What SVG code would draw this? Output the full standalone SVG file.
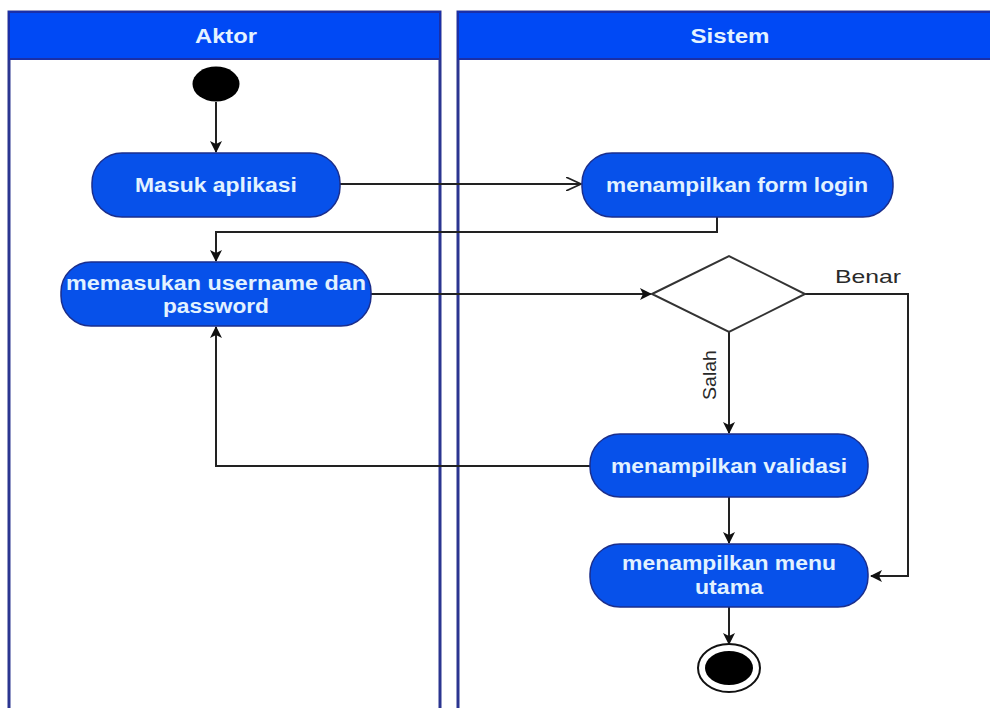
<svg xmlns="http://www.w3.org/2000/svg" width="990" height="708" viewBox="0 0 990 708">
  <style>
    .lane { fill: #ffffff; stroke: #2b3590; stroke-width: 3; }
    .head { fill: #0049f5; stroke: #1a2fa8; stroke-width: 2; }
    .head-text { font-family: "Liberation Sans", Arial, sans-serif; font-weight: bold; font-size: 20px; fill: #e4f2ff; text-anchor: middle; }
    .act { fill: #0751ea; stroke: #1b2e8c; stroke-width: 1.5; }
    .act-text { font-family: "Liberation Sans", Arial, sans-serif; font-weight: bold; font-size: 19.5px; fill: #e2f2ff; text-anchor: middle; }
    .edge { fill: none; stroke: #222222; stroke-width: 2; }
    .guard { font-family: "Liberation Sans", Arial, sans-serif; font-size: 19px; fill: #2a2a2a; }
  </style>
  <defs>
    <marker id="arrow" viewBox="0 0 12 12" refX="11" refY="6" markerWidth="12" markerHeight="12" markerUnits="userSpaceOnUse" orient="auto">
      <path d="M0,0 L12,6 L0,12 L3,6 Z" fill="#111111"/>
    </marker>
    <marker id="open" viewBox="0 0 16 14" refX="15" refY="7" markerWidth="16" markerHeight="14" markerUnits="userSpaceOnUse" orient="auto">
      <path d="M0,0 L15,7 L0,14" fill="none" stroke="#222222" stroke-width="1.6"/>
    </marker>
  </defs>

  <rect x="0" y="0" width="990" height="708" fill="#ffffff"/>

  <!-- swimlanes -->
  <g id="lane-aktor">
    <rect class="lane" x="9" y="12" width="431" height="710"/>
    <rect class="head" x="9" y="12" width="431" height="47"/>
    <text class="head-text" x="226" y="43" textLength="62" lengthAdjust="spacingAndGlyphs">Aktor</text>
  </g>
  <g id="lane-sistem">
    <rect class="lane" x="458" y="12" width="540" height="710"/>
    <rect class="head" x="458" y="12" width="540" height="47"/>
    <text class="head-text" x="730" y="43" textLength="79" lengthAdjust="spacingAndGlyphs">Sistem</text>
  </g>

  <!-- connectors -->
  <g id="connectors">
    <path class="edge" d="M216,102 L216,152" marker-end="url(#arrow)"/>
    <path class="edge" d="M340,184 L581,184" marker-end="url(#open)"/>
    <path class="edge" d="M717,217 L717,232 L216,232 L216,261" marker-end="url(#arrow)"/>
    <path class="edge" d="M371,294 L651,294" marker-end="url(#arrow)"/>
    <path class="edge" d="M805,294 L908,294 L908,576 L871,576" marker-end="url(#arrow)"/>
    <path class="edge" d="M729,332 L729,433" marker-end="url(#arrow)"/>
    <path class="edge" d="M590,466 L216,466 L216,327" marker-end="url(#arrow)"/>
    <path class="edge" d="M729,497 L729,543" marker-end="url(#arrow)"/>
    <path class="edge" d="M729,607 L729,644" marker-end="url(#arrow)"/>
    <text class="guard" x="835" y="283" textLength="66" lengthAdjust="spacingAndGlyphs">Benar</text>
    <text class="guard" transform="translate(716,375) rotate(-90)" text-anchor="middle" textLength="50" lengthAdjust="spacingAndGlyphs">Salah</text>
  </g>

  <!-- nodes -->
  <g id="start">
    <ellipse cx="216" cy="84" rx="23.5" ry="17.5" fill="#000000"/>
  </g>
  <g id="masuk-aplikasi">
    <rect class="act" x="92" y="153" width="248" height="64" rx="30" ry="30"/>
    <text class="act-text" x="216" y="192" textLength="162" lengthAdjust="spacingAndGlyphs">Masuk aplikasi</text>
  </g>
  <g id="form-login">
    <rect class="act" x="582" y="153" width="311" height="64" rx="30" ry="30"/>
    <text class="act-text" x="737" y="192" textLength="262" lengthAdjust="spacingAndGlyphs">menampilkan form login</text>
  </g>
  <g id="input-login">
    <rect class="act" x="61" y="262" width="310" height="64" rx="30" ry="30"/>
    <text class="act-text" x="216" y="290" textLength="300" lengthAdjust="spacingAndGlyphs">memasukan username dan</text>
    <text class="act-text" x="216" y="313" textLength="106" lengthAdjust="spacingAndGlyphs">password</text>
  </g>
  <g id="decision">
    <polygon points="652,294 729,256 805,294 729,332" fill="#ffffff" stroke="#333333" stroke-width="2"/>
  </g>
  <g id="validasi">
    <rect class="act" x="590" y="434" width="278" height="63" rx="30" ry="30"/>
    <text class="act-text" x="729" y="473" textLength="236" lengthAdjust="spacingAndGlyphs">menampilkan validasi</text>
  </g>
  <g id="menu-utama">
    <rect class="act" x="590" y="544" width="278" height="63" rx="30" ry="30"/>
    <text class="act-text" x="729" y="570" textLength="214" lengthAdjust="spacingAndGlyphs">menampilkan menu</text>
    <text class="act-text" x="729" y="594" textLength="68" lengthAdjust="spacingAndGlyphs">utama</text>
  </g>
  <g id="end">
    <ellipse cx="729" cy="668" rx="31" ry="24" fill="#ffffff" stroke="#111111" stroke-width="2"/>
    <ellipse cx="729" cy="668" rx="24" ry="17" fill="#000000"/>
  </g>
</svg>
